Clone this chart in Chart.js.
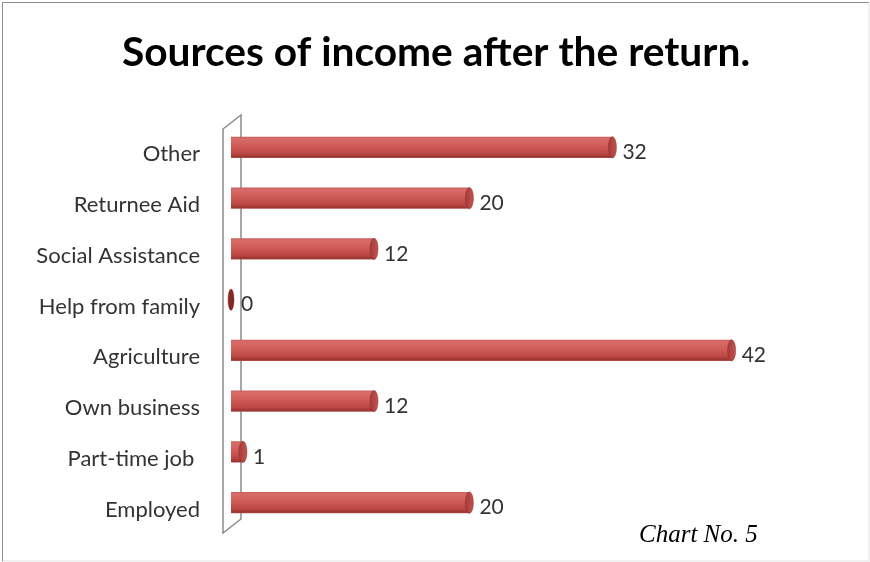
<!DOCTYPE html>
<html>
<head>
<meta charset="utf-8">
<script src="https://cdn.jsdelivr.net/npm/chart.js@4.4.1/dist/chart.umd.min.js"></script>
<style>
  html, body { margin: 0; padding: 0; background: #ffffff; }
  #wrap { position: relative; width: 870px; height: 562px; }
  canvas { display: block; }
</style>
</head>
<body>
<div id="wrap"><canvas id="c" width="870" height="562"></canvas></div>
<script>
// Income sources, listed top to bottom as they appear on the chart
const categories = ['Other', 'Returnee Aid', 'Social Assistance', 'Help from family',
                    'Agriculture', 'Own business', 'Part-time job ', 'Employed'];
const respondents = [32, 20, 12, 0, 42, 12, 1, 20];
const chartTitle = 'Sources of income after the return.';
const chartNote = 'Chart No. 5';

const BAR_FRACTION = 0.42;

// Vertical shading that makes each bar read as a cylinder
function cylinderFill(c) {
  const chart = c.chart;
  const yScale = chart.scales.y;
  if (!chart.chartArea || !yScale) return '#c0504d';
  const yc = yScale.getPixelForValue(c.dataIndex);
  const half = Math.abs(yScale.getPixelForValue(1) - yScale.getPixelForValue(0)) * BAR_FRACTION / 2;
  const g = chart.ctx.createLinearGradient(0, yc - half, 0, yc + half);
  g.addColorStop(0.00, '#c4605c');
  g.addColorStop(0.10, '#d86c69');
  g.addColorStop(0.40, '#d25e5b');
  g.addColorStop(0.80, '#bb4643');
  g.addColorStop(0.95, '#993532');
  g.addColorStop(1.00, '#b75a57');
  return g;
}

// Back wall of the 3D plot, end caps of the cylinders, value labels, title and note
const decorations = {
  id: 'decorations',
  beforeDraw(chart) {
    const ctx = chart.ctx;
    ctx.save();
    ctx.fillStyle = '#ffffff';
    ctx.fillRect(0, 0, chart.width, chart.height);
    // outer frame
    ctx.lineWidth = 1;
    ctx.strokeStyle = '#e2e2e2';
    ctx.strokeRect(2.5, 2.5, chart.width - 3.5, chart.height - 3.5);
    ctx.strokeStyle = '#8c8c8c';
    ctx.beginPath();
    ctx.moveTo(2.5, chart.height - 1); ctx.lineTo(2.5, 2.5); ctx.lineTo(chart.width - 1, 2.5);
    ctx.stroke();
    // title
    ctx.fillStyle = '#000000';
    ctx.font = 'bold 40.7px Lato';
    ctx.textAlign = 'center';
    ctx.textBaseline = 'middle';
    ctx.fillText(chartTitle, 436, 53);
    // note
    ctx.font = 'italic 25px "Liberation Serif"';
    ctx.textAlign = 'left';
    ctx.textBaseline = 'alphabetic';
    ctx.fillText(chartNote, 639, 542);
    ctx.restore();
  },
  beforeDatasetsDraw(chart) {
    const ctx = chart.ctx;
    const a = chart.chartArea;
    const x0 = chart.scales.x.getPixelForValue(0);
    ctx.save();
    ctx.strokeStyle = '#8a8a8a';
    ctx.lineWidth = 1.5;
    ctx.beginPath();
    ctx.moveTo(x0 - 8, a.top + 7);
    ctx.lineTo(x0 + 10, a.top - 7);
    ctx.lineTo(x0 + 10, a.bottom - 9);
    ctx.lineTo(x0 - 8, a.bottom + 5);
    ctx.closePath();
    ctx.stroke();
    ctx.restore();
  },
  afterDatasetsDraw(chart) {
    const ctx = chart.ctx;
    const meta = chart.getDatasetMeta(0);
    ctx.save();
    meta.data.forEach((bar, i) => {
      const ry = bar.height / 2;
      const rx = respondents[i] === 0 ? 3 : 4;
      const g = ctx.createLinearGradient(bar.x - rx, 0, bar.x + rx, 0);
      g.addColorStop(0, respondents[i] === 0 ? '#8e2d2b' : '#a53b38');
      g.addColorStop(1, respondents[i] === 0 ? '#7a2422' : '#c4524e');
      ctx.beginPath();
      ctx.ellipse(bar.x, bar.y, rx, ry, 0, 0, Math.PI * 2);
      ctx.fillStyle = g;
      ctx.fill();
      ctx.strokeStyle = 'rgba(140,40,38,0.6)';
      ctx.lineWidth = 0.8;
      ctx.stroke();

      ctx.fillStyle = '#333333';
      ctx.font = '21px Lato';
      ctx.textAlign = 'left';
      ctx.textBaseline = 'middle';
      ctx.fillText(String(respondents[i]), bar.x + 10, bar.y + 5);
    });
    ctx.restore();
  }
};

new Chart(document.getElementById('c'), {
  type: 'bar',
  data: {
    labels: categories,
    datasets: [{
      data: respondents,
      backgroundColor: cylinderFill,
      borderWidth: 0,
      categoryPercentage: 1,
      barPercentage: BAR_FRACTION
    }]
  },
  options: {
    indexAxis: 'y',
    responsive: false,
    animation: false,
    layout: { padding: { top: 122, bottom: 34, left: 0, right: 43 } },
    plugins: {
      legend: { display: false },
      title: { display: false },
      tooltip: { enabled: false }
    },
    scales: {
      x: { display: false, min: 0, max: 50 },
      y: {
        grid: { display: false, drawTicks: false },
        border: { display: false },
        ticks: {
          padding: 31,
          labelOffset: 7,
          color: '#333333',
          font: { family: 'Lato', size: 22 }
        },
        afterFit(scale) {
          scale.width = 231;
          // the label gap is horizontal only; keep it out of the vertical layout
          scale.paddingTop = 0;
          scale.paddingBottom = 0;
        }
      }
    }
  },
  plugins: [decorations]
});
</script>
</body>
</html>
